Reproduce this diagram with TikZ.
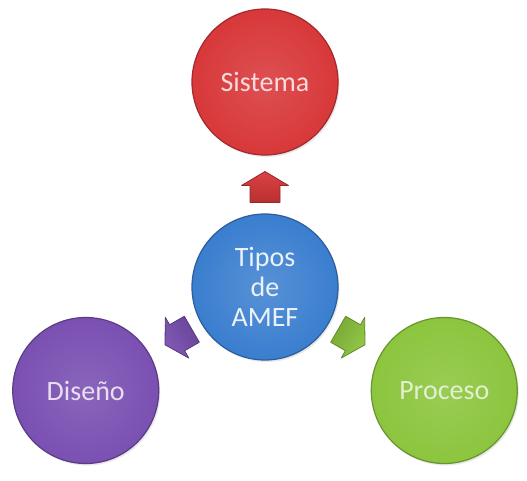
\documentclass[tikz,border=0pt]{standalone}
\usepackage{fontspec}
\setmainfont{Carlito}
\usetikzlibrary{shadows,calc}
\definecolor{rojo}{HTML}{D8383A}
\definecolor{azul}{HTML}{3A7ECF}
\definecolor{morado}{HTML}{7A50B2}
\definecolor{verde}{HTML}{8CC53E}

\begin{document}
\begin{tikzpicture}[x=1pt,y=1pt,
  tipo/.style={circle,minimum size=146pt,inner sep=0pt,line width=1.2pt,align=center,
    font=\fontsize{28}{30}\selectfont,
    drop shadow={opacity=0.18,shadow xshift=1.5pt,shadow yshift=-2pt}},
  flecha/.style={line width=0.8pt,line join=round}]
  \useasboundingbox (0,0) rectangle (527,480);
  % centro
  \node[tipo,draw=azul!75!black,inner color=azul!85!white,outer color=azul,text=azul!10!white]
    (tipos) at (265,193) {Tipos\\de\\AMEF};
  % tipos alrededor
  \node[tipo,draw=rojo!75!black,inner color=rojo!88!white,outer color=rojo,text=rojo!18!white]
    (sistema) at ($(tipos)+(90:205)$) {Sistema};
  \node[tipo,draw=morado!75!black,inner color=morado!88!white,outer color=morado,text=morado!18!white]
    (diseno) at ($(tipos)+(210:207)$) {Diseño};
  \node[tipo,draw=verde!75!black,inner color=verde!88!white,outer color=verde,text=verde!25!white]
    (proceso) at ($(tipos)+(330:207)$) {Proceso};
  % flechas
  \foreach \ang/\col/\nom in {90/rojo/fS, 210/morado/fD, 330/verde/fP}{
    \coordinate (\nom) at ($(tipos)+(\ang:100)$);
    \begin{scope}[shift={(\nom)},rotate=\ang]
      \draw[flecha,draw=\col!70!black,top color=\col!95!white,bottom color=\col!85!black,shading angle=\ang-90]
        (-15.5,-15) -- (1.5,-15) -- (1.5,-23.5) -- (15.5,0) -- (1.5,23.5) -- (1.5,15) -- (-15.5,15) -- cycle;
    \end{scope}
  }
\end{tikzpicture}
\end{document}
